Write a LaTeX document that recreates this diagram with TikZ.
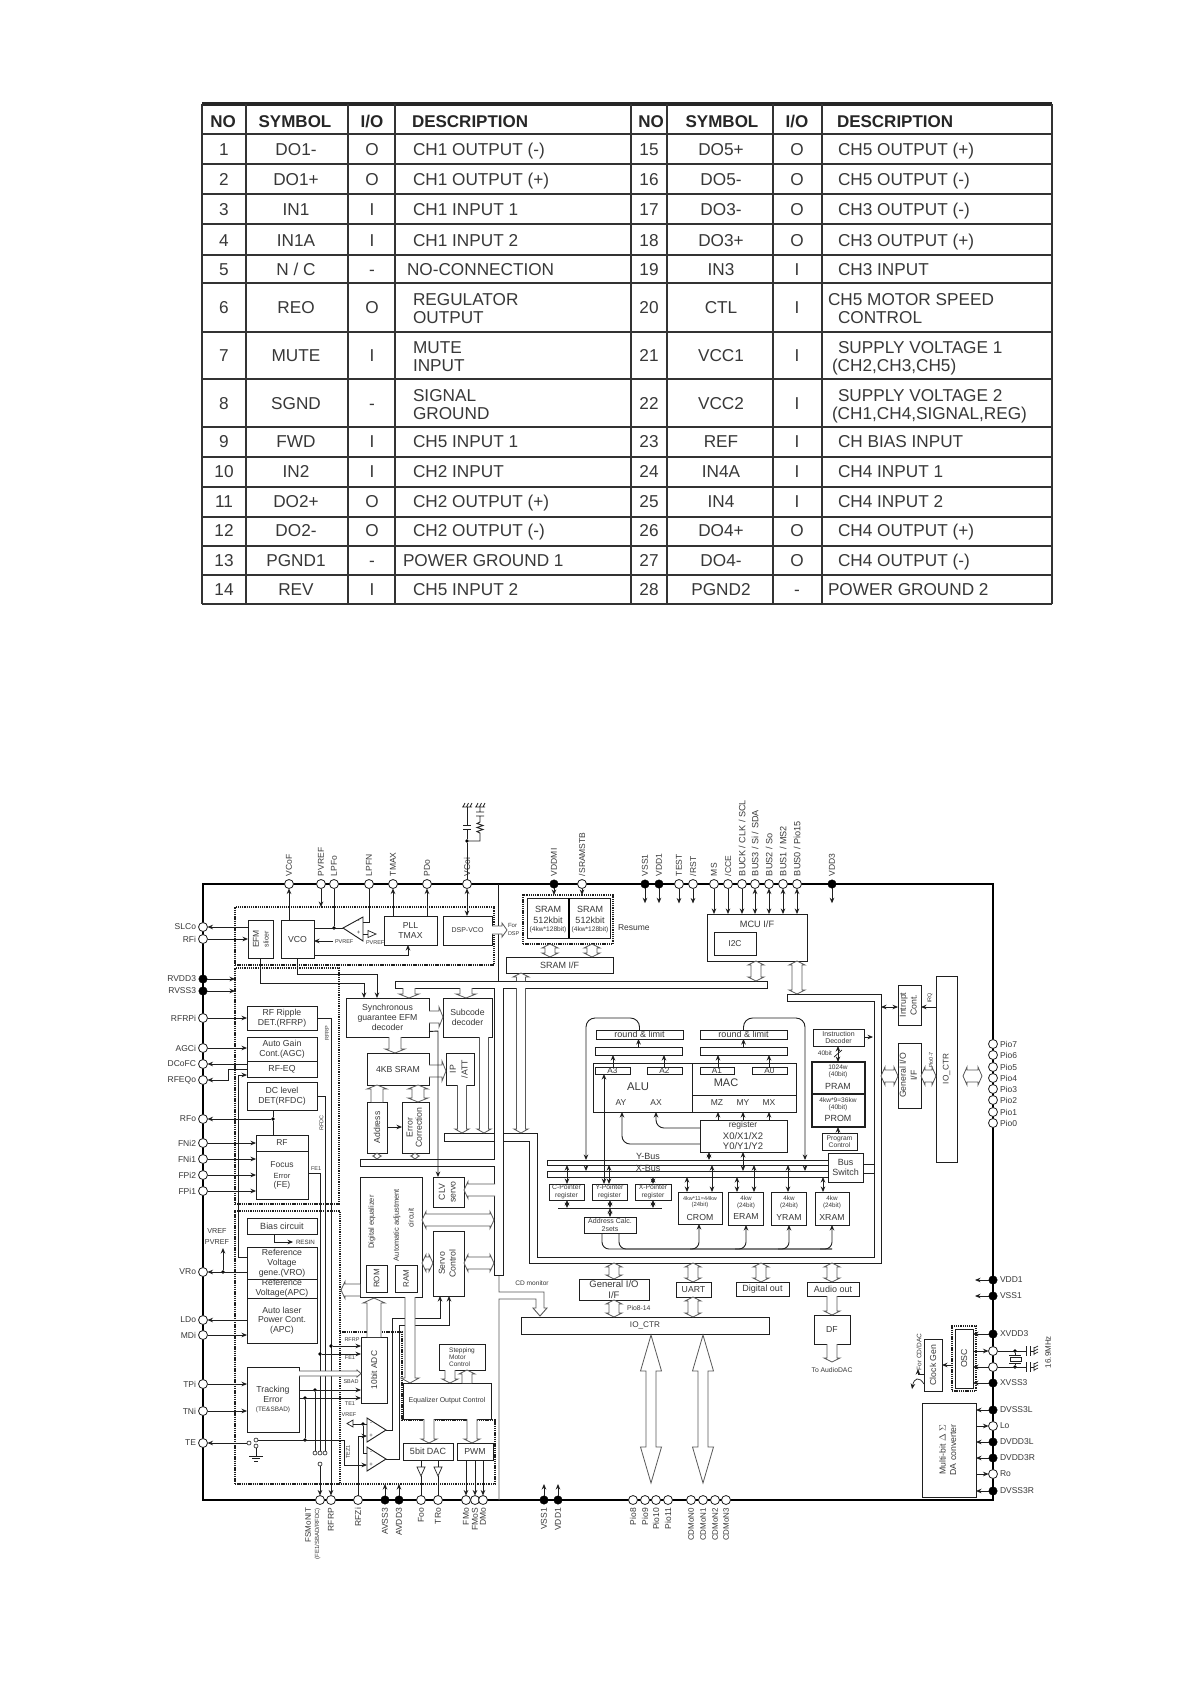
\documentclass[tikz,border=0pt]{standalone}
\usepackage{fontspec}
\setmainfont{Liberation Sans}
\usetikzlibrary{arrows.meta,calc}
\definecolor{ink}{gray}{0.12}
\definecolor{txt}{gray}{0.22}
\newcommand{\myfs}[1]{\fontsize{#1}{#1}\selectfont\setlength{\baselineskip}{1.12em}}
\tikzset{
  fs/.style={font=\myfs{#1}},
  blk/.style={draw=ink,fill=white,inner sep=0pt,outer sep=0pt,line width=.9pt,align=center,text=txt,fs=8.7},
  dots/.style={draw=ink,line width=1.3pt,dash pattern=on 1.3pt off .9pt},
  barr/.style={draw=black!65,fill=white,line width=.8pt,line join=miter},
  lab/.style={inner sep=0pt,outer sep=0pt,text=txt,align=center,fs=7.5},
  plab/.style={inner sep=0pt,outer sep=0pt,text=txt,fs=8.5},
  pino/.style={circle,draw=ink,fill=white,line width=.8pt,minimum size=9pt,inner sep=0pt,outer sep=0pt},
  pinf/.style={circle,draw=black,fill=black,line width=.4pt,minimum size=8.5pt,inner sep=0pt,outer sep=0pt},
  jd/.style={circle,fill=black,minimum size=3.6pt,inner sep=0pt,outer sep=0pt},
  swc/.style={circle,draw=ink,fill=white,line width=.6pt,minimum size=4pt,inner sep=0pt,outer sep=0pt},
  tcell/.style={inner sep=0pt,outer sep=0pt,text=txt,fs=17.2,anchor=base},
  thead/.style={tcell,font=\fontsize{17}{17}\selectfont\bfseries,text=black!85},
}
\newcount\tcnt
\newcommand{\tx}[4][]{\global\advance\tcnt by 1 \node[lab,#1] (t\the\tcnt) at (#2,#3) {#4};}
\newcommand{\tcl}[4][]{\global\advance\tcnt by 1 \node[tcell,#1] (t\the\tcnt) at (#2,#3+6.3) {#4};}
\newcommand{\tle}[3]{\tcl[anchor=base west]{#1}{#2}{#3}}
\newcommand{\bx}[7][]{\pgfmathsetmacro\bxw{#5-#3}\pgfmathsetmacro\bxh{#6-#4}\pgfmathsetmacro\bxx{(#3+#5)/2}\pgfmathsetmacro\bxy{(#4+#6)/2}\node[blk,minimum width=\bxw pt,minimum height=\bxh pt,#1] (#2) at (\bxx,\bxy) {#7};}
% rotated two-line block text
\newcommand{\rtwo}[3][2pt]{\rotatebox{90}{\begin{tabular}{@{}c@{}}#2\\[#1]#3\end{tabular}}}
% pins
\newcommand{\tpn}[4][pino]{\node[#1] (#2) at (#3,884) {}; \node[plab,rotate=90,anchor=west] (#2l) at (#3,876) {#4};}
\newcommand{\bpn}[4][pino]{\node[#1] (#2) at (#3,1500) {}; \node[plab,rotate=90,anchor=east] (#2l) at (#3,1508) {#4};}
\newcommand{\lpn}[4][pino]{\node[#1] (#2) at (203,#3) {}; \node[plab,anchor=east] (#2l) at (196,#3) {#4};}
\newcommand{\rpn}[4][pino]{\node[#1] (#2) at (993,#3) {}; \node[plab,anchor=west] (#2l) at (1000,#3) {#4};}
% connectors
\newcommand{\vc}[4][]{\draw[#1] (#2,0 |- #3) -- (#2,0 |- #4);}
\newcommand{\lin}[2]{\draw[->] (#1.east) -- (#1.east -| #2.west);}
\newcommand{\lout}[2]{\draw[->] (#1.east -| #2.west) -- (#1.east);}
\newcommand{\rin}[2]{\draw[->] (#1.west) -- (#1.west -| #2.east);}
\newcommand{\rout}[2]{\draw[->] (#1.west -| #2.east) -- (#1.west);}
% block arrows
\def\bs{5}\def\bh{8}\def\bl{4}
\newcommand{\vbi}[3]{\draw[barr] (#1-\bs,#2+\bl) -- (#1-\bh,#2+\bl) -- (#1,#2) -- (#1+\bh,#2+\bl) -- (#1+\bs,#2+\bl) -- (#1+\bs,#3-\bl) -- (#1+\bh,#3-\bl) -- (#1,#3) -- (#1-\bh,#3-\bl) -- (#1-\bs,#3-\bl) -- cycle;}
\newcommand{\hbi}[3]{\draw[barr] (#2+\bl,#1-\bs) -- (#2+\bl,#1-\bh) -- (#2,#1) -- (#2+\bl,#1+\bh) -- (#2+\bl,#1+\bs) -- (#3-\bl,#1+\bs) -- (#3-\bl,#1+\bh) -- (#3,#1) -- (#3-\bl,#1-\bh) -- (#3-\bl,#1-\bs) -- cycle;}
\newcommand{\vun}[3]{\pgfmathsetmacro\sg{sign(#3-#2)}\draw[barr] (#1-\bs,#2) -- (#1-\bs,#3-\sg*\bl) -- (#1-\bh,#3-\sg*\bl) -- (#1,#3) -- (#1+\bh,#3-\sg*\bl) -- (#1+\bs,#3-\sg*\bl) -- (#1+\bs,#2);}
\newcommand{\hun}[3]{\pgfmathsetmacro\sg{sign(#3-#2)}\draw[barr] (#2,#1-\bs) -- (#3-\sg*\bl,#1-\bs) -- (#3-\sg*\bl,#1-\bh) -- (#3,#1) -- (#3-\sg*\bl,#1+\bh) -- (#3-\sg*\bl,#1+\bs) -- (#2,#1+\bs);}
\newcommand{\gnd}[2]{\draw[line width=.7pt] (#1-5,#2) -- (#1+5,#2) (#1-4,#2) -- (#1-2,#2-4) (#1-.5,#2) -- (#1+1.5,#2-4) (#1+3,#2) -- (#1+5,#2-4);}
\newcommand{\trow}[7]{%
  \tcl{224}{#1}{#2}\tcl{296}{#1}{#3}\tcl{372}{#1}{#4}%
  \tcl{649}{#1}{#5}\tcl{721}{#1}{#6}\tcl{797}{#1}{#7}}
\begin{document}
\begin{tikzpicture}[x=1pt,y=-1pt,>={Stealth[length=5.5pt,width=4.6pt]},line width=.9pt,draw=ink]
\useasboundingbox (0,0) rectangle (1190,1684);
\fill[white] (0,0) rectangle (1190,1684);

%%%%%%%%%%% TABLE
\draw[line width=3.6pt,black!85] (202,104) -- (1052,104);
\foreach \yy in {134,164,194,224,255,283,332,379,427,457,487,517,546,575,604}
  \draw[line width=1.7pt,black!80] (202,\yy) -- (1052,\yy);
\foreach \xx in {202,246,348,395,631,667,773,822,1052}
  \draw[line width=1.7pt,black!80] (\xx,104) -- (\xx,604);
\tcl[thead]{223}{121}{NO}\tcl[thead]{295}{121}{SYMBOL}\tcl[thead]{372}{121}{I/O}\tcl[thead,anchor=base west]{412}{121}{DESCRIPTION}
\tcl[thead]{651}{121}{NO}\tcl[thead]{722}{121}{SYMBOL}\tcl[thead]{797}{121}{I/O}\tcl[thead,anchor=base west]{837}{121}{DESCRIPTION}
\trow{149}{1}{DO1-}{O}{15}{DO5+}{O}
\trow{179}{2}{DO1+}{O}{16}{DO5-}{O}
\trow{209}{3}{IN1}{I}{17}{DO3-}{O}
\trow{240}{4}{IN1A}{I}{18}{DO3+}{O}
\trow{269}{5}{N / C}{-}{19}{IN3}{I}
\trow{307}{6}{REO}{O}{20}{CTL}{I}
\trow{355}{7}{MUTE}{I}{21}{VCC1}{I}
\trow{403}{8}{SGND}{-}{22}{VCC2}{I}
\trow{441}{9}{FWD}{I}{23}{REF}{I}
\trow{471}{10}{IN2}{I}{24}{IN4A}{I}
\trow{501}{11}{DO2+}{O}{25}{IN4}{I}
\trow{530}{12}{DO2-}{O}{26}{DO4+}{O}
\trow{560}{13}{PGND1}{-}{27}{DO4-}{O}
\trow{589}{14}{REV}{I}{28}{PGND2}{-}
\tle{413}{149}{CH1 OUTPUT (-)}\tle{413}{179}{CH1 OUTPUT (+)}\tle{413}{209}{CH1 INPUT 1}\tle{413}{240}{CH1 INPUT 2}
\tle{407}{269}{NO-CONNECTION}\tle{413}{299}{REGULATOR}\tle{413}{317}{OUTPUT}\tle{413}{347}{MUTE}\tle{413}{365}{INPUT}
\tle{413}{395}{SIGNAL}\tle{413}{413}{GROUND}\tle{413}{441}{CH5 INPUT 1}\tle{413}{471}{CH2 INPUT}
\tle{413}{501}{CH2 OUTPUT (+)}\tle{413}{530}{CH2 OUTPUT (-)}\tle{403}{560}{POWER GROUND 1}\tle{413}{589}{CH5 INPUT 2}
\tle{838}{149}{CH5 OUTPUT (+)}\tle{838}{179}{CH5 OUTPUT (-)}\tle{838}{209}{CH3 OUTPUT (-)}\tle{838}{240}{CH3 OUTPUT (+)}
\tle{838}{269}{CH3 INPUT}\tle{828}{299}{CH5 MOTOR SPEED}\tle{838}{317}{CONTROL}\tle{838}{347}{SUPPLY VOLTAGE 1}\tle{832}{365}{(CH2,CH3,CH5)}
\tle{838}{395}{SUPPLY VOLTAGE 2}\tle{832}{413}{(CH1,CH4,SIGNAL,REG)}\tle{838}{441}{CH BIAS INPUT}\tle{838}{471}{CH4 INPUT 1}
\tle{838}{501}{CH4 INPUT 2}\tle{838}{530}{CH4 OUTPUT (+)}\tle{838}{560}{CH4 OUTPUT (-)}\tle{828}{589}{POWER GROUND 2}

%%%%%%%%%%% CHIP OUTLINE AND PARTITIONS
\draw[line width=1.8pt,black] (203,884) rectangle (993,1500);
\node[dots,minimum width=259pt,minimum height=58pt,inner sep=0pt,outer sep=0pt] (dotA) at (364.5,936) {};
\node[dots,minimum width=104pt,minimum height=236pt,inner sep=0pt,outer sep=0pt] (dotB) at (287,1086) {};
\node[dots,minimum width=105pt,minimum height=273pt,inner sep=0pt,outer sep=0pt] (dotC) at (287.5,1347.5) {};
\draw[dots] (340,1332) -- (402,1332) -- (402,1420) -- (495,1420) -- (495,1484) -- (340,1484);
\draw[line width=.9pt] (498,884) -- (498,981);
\draw[barr,line width=.9pt] (499,1500) -- (499,1299) -- (536,1299) -- (536,1308) -- (533,1308) -- (540,1316) -- (547,1308) -- (544,1308) -- (544,1292) -- (499,1292) -- (499,1275);

%%%%%%%%%%% BUSES
\draw[fill=white,line width=.9pt] (444,1133) -- (537,1133) -- (537,1257) -- (874,1257) -- (874,1001) -- (787,1001) -- (787,994) -- (881,994) -- (881,1263) -- (529,1263) -- (529,1141) -- (444,1141) -- cycle;
\draw[fill=white,line width=.9pt] (395,981) -- (767,981) -- (767,988) -- (503,988) -- (503,1275) -- (494.5,1275) -- (494.5,1166) -- (360,1166) -- (360,1159) -- (494.5,1159) -- (494.5,988) -- (395,988) -- cycle;

%%%%%%%%%%% LEFT-TOP BLOCKS
\bx{EFM}{248}{920}{273}{958}{}
\tx[rotate=90,fs=8.5]{256}{939}{EFM}\tx[rotate=90,fs=7]{266}{939}{slicer}
\bx{VCO}{281}{920}{314}{958}{VCO}
\bx{PLL}{384}{916}{437}{945}{PLL\\TMAX}
\bx[fs=7]{DSP}{443}{916}{492}{945}{DSP-VCO}
\bx{RFrip}{247}{1006}{317}{1030}{RF Ripple\\DET.(RFRP)}
\bx{AGC}{247}{1037}{317}{1061}{Auto Gain\\Cont.(AGC)}
\bx{RFEQ}{247}{1061}{317}{1077}{RF-EQ}
\bx{DCb}{247}{1082}{317}{1110}{DC level\\DET(RFDC)}
\bx{RFb}{256}{1135}{308}{1199}{}
\draw (RFb.west |- 0,1151) -- (RFb.east |- 0,1151);
\tx[fs=8.5]{282}{1143}{RF}\tx[fs=8.5]{282}{1165}{Focus}\tx[fs=7.5]{282}{1175.5}{Error}\tx[fs=8.5]{282}{1185}{(FE)}
\bx[fs=9]{Bias}{247}{1218}{317}{1234}{Bias circuit}
\bx{RefV}{247}{1247}{317}{1279}{Reference\\Voltage\\gene.(VRO)}
\bx{RefA}{247}{1279}{317}{1298}{Reference\\Voltage(APC)}
\bx{APC}{247}{1298}{317}{1343}{Auto laser\\Power Cont.\\(APC)}
\bx{Trk}{247}{1367}{299}{1432}{}
\tx[fs=8.7]{273}{1390}{Tracking}\tx[fs=8.7]{273}{1400}{Error}
\tx[fs=6.4]{273}{1410}{(TE\&SBAD)}
\bx[fs=8.4]{ADC}{361}{1337}{387}{1403}{\rotatebox{90}{10bit ADC}}
\bx[fs=7]{EqC}{403}{1383}{491}{1419}{Equalizer Output Control}
\bx[fs=6.5,align=left]{Step}{439}{1344}{485}{1370}{Stepping\\Motor\\Control}
\bx[fs=9]{DAC}{403}{1443}{453}{1460}{5bit DAC}
\bx{PWM}{457}{1443}{493}{1460}{PWM}

%%%%%%%%%%% CENTRE BLOCKS
\bx{Sync}{346}{998}{429}{1037}{Synchronous\\guarantee EFM\\decoder}
\bx{Subc}{443}{998}{492}{1037}{Subcode\\decoder}
\bx{SRAM4}{367}{1053}{429}{1085}{4KB SRAM}
\bx{IPA}{446}{1053}{474}{1085}{\rtwo[3pt]{IP}{/ATT}}
\bx{Addr}{367}{1102}{387}{1153}{\rotatebox{90}{Address}}
\bx{ErrC}{402}{1102}{429}{1153}{\rtwo[.5pt]{Error}{Correction}}
\bx{DEq}{360}{1177}{422}{1297}{}
\tx[rotate=90,fs=7.5]{372}{1222}{Digital equalizer}
\tx[rotate=90,fs=7.5]{397}{1225}{Automatic adjustment}
\tx[rotate=90,fs=7.5]{411}{1218}{circuit}
\bx[fs=8]{ROM}{366}{1265}{387}{1292}{\rotatebox{90}{ROM}}
\bx[fs=8]{RAM}{395}{1265}{417}{1292}{\rotatebox{90}{RAM}}
\bx{CLV}{433}{1177}{464}{1207}{\rtwo{CLV}{servo}}
\bx{Servo}{433}{1231}{464}{1296}{\rtwo{Servo}{Control}}

%%%%%%%%%%% SRAM, MCU
\node[dots,line width=1.6pt,minimum width=90pt,minimum height=49pt,inner sep=0pt,outer sep=0pt] (SRo) at (568,919.5) {};
\bx[line width=1pt]{SRa}{527}{898}{569}{938}{}
\bx[line width=1pt]{SRb}{569}{898}{610}{938}{}
\draw[line width=1.6pt,black] (SRa.north east) -- (SRa.south east);
\tx[fs=9]{548}{909}{SRAM}\tx[fs=9]{548}{920}{512kbit}\tx[fs=6.6]{548}{929.5}{(4kw*128bit)}
\tx[fs=9]{590}{909}{SRAM}\tx[fs=9]{590}{920}{512kbit}\tx[fs=6.6]{590}{929.5}{(4kw*128bit)}
\bx[fs=9]{SRIF}{506}{957}{613}{973}{SRAM I/F}
\tx[fs=8.5,anchor=west]{618}{928}{Resume}
\bx{MCU}{707}{914}{807}{961}{}
\tx[fs=9.2]{757}{924}{MCU I/F}
\bx[fs=8.5]{I2C}{714}{932}{756}{955}{I2C}

%%%%%%%%%%% DSP CORE
\bx[fs=9]{RL1}{596}{1030}{683}{1039}{round \& limit}
\bx{Bar1}{595}{1047}{682}{1055}{}
\bx[fs=9]{RL2}{700}{1030}{787}{1039}{round \& limit}
\bx{Bar2}{700}{1047}{787}{1055}{}
\bx{ALUb}{593}{1063}{692}{1112}{}
\bx{MACb}{692}{1063}{796}{1112}{}
\bx{MZb}{692}{1095}{796}{1112}{}
\bx[fs=8.2]{A3}{595}{1067}{630}{1074}{A3}
\bx[fs=8.2]{A2}{647}{1067}{682}{1074}{A2}
\bx[fs=8.2]{A1}{700}{1067}{734}{1074}{A1}
\bx[fs=8.2]{A0}{752}{1067}{787}{1074}{A0}
\tx[fs=11.3]{638}{1087}{ALU}\tx[fs=11]{726}{1083}{MAC}
\tx[fs=8.5]{621}{1103}{AY}\tx[fs=8.5]{656}{1103}{AX}\tx[fs=8.5]{717}{1103}{MZ}\tx[fs=8.5]{743}{1103}{MY}\tx[fs=8.5]{769}{1103}{MX}
\bx{Reg}{700}{1120}{787}{1152}{}
\tx[fs=8.5]{743}{1125}{register}\tx[fs=9.5]{743}{1136}{X0/X1/X2}\tx[fs=9.5]{743}{1146.5}{Y0/Y1/Y2}
\bx{Ybus}{547}{1160}{828}{1165}{}
\bx{Xbus}{547}{1171}{828}{1177}{}
\tx[fs=9]{648}{1156}{Y-Bus}\tx[fs=9]{648}{1168.5}{X-Bus}
\bx[fs=9]{BusSw}{828}{1153}{863}{1182}{Bus\\Switch}
\bx[fs=6.8]{CPtr}{549}{1184}{584}{1200}{C-Pointer\\register}
\bx[fs=6.8]{YPtr}{592}{1184}{627}{1200}{Y-Pointer\\register}
\bx[fs=6.8]{XPtr}{635}{1184}{671}{1200}{X-Pointer\\register}
\draw[line width=1pt] (558,1208) -- (662,1208);
\coordinate (ptrL) at (610,1208);
\bx[fs=7]{AdrC}{584}{1217}{636}{1233}{Address Calc.\\2sets}
\bx{CROM}{678}{1192}{722}{1224}{}
\bx{ERAM}{728}{1192}{763}{1225}{}
\bx{YRAM}{771}{1192}{806}{1225}{}
\bx{XRAM}{815}{1192}{849}{1225}{}
\tx[fs=5.5]{700}{1198}{4kw*11=44kw}\tx[fs=5.9]{700}{1205}{(24bit)}\tx[fs=8.7]{700}{1217}{CROM}
\tx[fs=6.3]{746}{1198}{4kw}\tx[fs=6.3]{746}{1206}{(24bit)}\tx[fs=8.7]{746}{1216}{ERAM}
\tx[fs=6.3]{789}{1198}{4kw}\tx[fs=6.3]{789}{1206}{(24bit)}\tx[fs=8.7]{789}{1217}{YRAM}
\tx[fs=6.3]{832}{1198}{4kw}\tx[fs=6.3]{832}{1206}{(24bit)}\tx[fs=8.7]{832}{1217}{XRAM}
\bx[fs=7]{InsD}{813}{1029}{864}{1046}{Instruction\\Decoder}
\bx[line width=1.7pt]{PRAM}{812}{1062}{865}{1094}{}
\bx[line width=1.7pt]{PROM}{812}{1094}{865}{1127}{}
\tx[fs=6.6]{838}{1067}{1024w}\tx[fs=6.6]{838}{1075}{(40bit)}\tx[fs=8.9]{838}{1086}{PRAM}
\tx[fs=6.6]{838}{1100}{4kw*9=36kw}\tx[fs=6.6]{838}{1108}{(40bit)}\tx[fs=8.9]{838}{1118}{PROM}
\bx[fs=6.7]{PrgC}{822}{1133}{857}{1150}{Program\\Control}
\tx[fs=6.5,anchor=east]{832}{1053}{40bit}

%%%%%%%%%%% RIGHT BLOCKS
\bx{Intr}{898}{985}{921}{1025}{\rtwo{Intrupt}{Cont.}}
\bx{GIOr}{898}{1043}{921}{1108}{\rtwo{General I/O}{I/F}}
\bx[fs=8.2]{IOr}{936}{976}{957}{1162}{\rotatebox{90}{IO\_CTR}}
\tx[fs=5.5,rotate=90]{930}{998}{IRQ}
\tx[fs=5.5,rotate=90]{931}{1060}{Pio0-7}
\bx[fs=9.5]{GIOb}{579}{1279}{649}{1300}{General I/O\\I/F}
\bx{UART}{676}{1282}{711}{1297}{UART}
\bx[fs=9]{DOut}{736}{1282}{789}{1296}{Digital out}
\bx[fs=9]{AOut}{807}{1282}{859}{1296}{Audio out}
\bx{DF}{814}{1315}{850}{1344}{DF}
\bx[fs=8.2]{IOb}{521}{1317}{769}{1334}{IO\_CTR}
\tx[fs=6.8,anchor=west]{627}{1308}{Pio8-14}
\tx[fs=6.6]{532}{1283}{CD monitor}
\tx[fs=6.8]{832}{1370}{To AudioDAC}
\bx{Clk}{924}{1339}{942}{1391}{\rotatebox{90}{Clock Gen}}
\node[dots,line width=1.6pt,minimum width=24pt,minimum height=65pt,inner sep=0pt,outer sep=0pt] (OSCo) at (964,1358.5) {};
\bx{OSC}{955}{1329}{973}{1388}{\rotatebox{90}{OSC}}
\bx{DAconv}{922}{1403}{976}{1497}{\rtwo{Multi-bit \(\Delta\ \Sigma\)}{DA converter}}
\tx[fs=6.5,rotate=90]{919}{1352}{For CD/DAC}

%%%%%%%%%%% OP AMPS
\draw (363,917) -- (363,941) -- (343,928) -- cycle;
\coordinate (oa0t) at (343,928); \coordinate (oa0m) at (363,922); \coordinate (oa0p) at (363,934);
\tx[fs=6]{358.5}{922}{-}\tx[fs=6]{358.5}{933}{+}
\draw (367,1418) -- (367,1442) -- (386,1430) -- cycle;
\coordinate (oa1t) at (386,1430); \coordinate (oa1m) at (367,1424); \coordinate (oa1p) at (367,1436);
\draw (367,1447) -- (367,1471) -- (386,1459) -- cycle;
\coordinate (oa2t) at (386,1459); \coordinate (oa2m) at (367,1453); \coordinate (oa2p) at (367,1465);
\tx[fs=6]{371}{1424}{-}\tx[fs=6]{371}{1436}{+}\tx[fs=6]{371}{1453}{-}\tx[fs=6]{371}{1465}{+}

%%%%%%%%%%% PINS
\tpn{pVCoF}{289}{VCoF}\tpn{pPVREF}{321}{PVREF}\tpn{pLPFo}{334}{LPFo}\tpn{pLPFN}{369}{LPFN}\tpn{pTMAX}{393}{TMAX}\tpn{pPDo}{427}{PDo}\tpn{pVCoi}{467}{VCoi}
\tpn[pinf]{pVDDMI}{554}{VDDMI}\tpn{pSRST}{582}{/SRAMSTB}\tpn[pinf]{pVSS1t}{645}{VSS1}\tpn[pinf]{pVDD1t}{659}{VDD1}\tpn{pTEST}{679}{TEST}\tpn{pRST}{693}{/RST}
\tpn{pMS}{714}{MS}\tpn{pCCE}{728}{/CCE}\tpn{pBUCK}{742}{\myfs{9.1}BUCK / CLK / SCL}\tpn{pBUS3}{755}{\myfs{9.1}BUS3 / Si / SDA}\tpn{pBUS2}{769}{\myfs{9.1}BUS2 / So}\tpn{pBUS1}{783}{\myfs{9.1}BUS1 / MS2}\tpn{pBUS0}{797}{\myfs{9.1}BUS0 / Pio15}
\tpn[pinf]{pVDD3}{832}{VDD3}
\lpn{pSLCo}{927}{SLCo}\lpn{pRFi}{939}{RFi}\lpn[pinf]{pRVDD3}{979}{RVDD3}\lpn[pinf]{pRVSS3}{991}{RVSS3}\lpn{pRFRPi}{1018}{RFRPi}\lpn{pAGCi}{1048}{AGCi}\lpn{pDCoFC}{1064}{DCoFC}\lpn{pRFEQo}{1080}{RFEQo}
\lpn{pRFo}{1119}{RFo}\lpn{pFNi2}{1143}{FNi2}\lpn{pFNi1}{1159}{FNi1}\lpn{pFPi2}{1175}{FPi2}\lpn{pFPi1}{1191}{FPi1}\lpn{pVRo}{1272}{VRo}\lpn{pLDo}{1320}{LDo}\lpn{pMDi}{1335}{MDi}\lpn{pTPi}{1384}{TPi}\lpn{pTNi}{1411}{TNi}\lpn{pTE}{1443}{TE}
\node[pino] (pFSM) at (320,1500) {};
\node[plab,rotate=90,anchor=east,fs=8] (pFSMl) at (308,1508) {FSMoNIT};
\node[plab,rotate=90,anchor=east,fs=6] (pFSMm) at (317.5,1508) {(FE1/SBAD/RFDC)};
\bpn{pRFRP}{331}{RFRP}\bpn{pRFZi}{358}{RFZi}\bpn[pinf]{pAVSS3}{385}{AVSS3}\bpn[pinf]{pAVDD3}{399}{AVDD3}\bpn{pFoo}{421}{Foo}\bpn{pTRo}{438}{TRo}\bpn{pFMo}{466}{FMo}\bpn{pFMoS}{475}{FMoS}\bpn{pDMo}{483}{DMo}
\bpn[pinf]{pVSS1b}{544}{VSS1}\bpn[pinf]{pVDD1b}{558}{VDD1}\bpn{pP8}{633}{Pio8}\bpn{pP9}{645}{Pio9}\bpn{pP10}{656}{Pio10}\bpn{pP11}{668}{Pio11}
\bpn{pN0}{691}{\myfs{8}CDMoN0}\bpn{pN1}{703}{\myfs{8}CDMoN1}\bpn{pN2}{715}{\myfs{8}CDMoN2}\bpn{pN3}{726}{\myfs{8}CDMoN3}
\rpn{pP7}{1044}{Pio7}\rpn{pP6}{1055}{Pio6}\rpn{pP5}{1067}{Pio5}\rpn{pP4}{1078}{Pio4}\rpn{pP3}{1089}{Pio3}\rpn{pP2}{1100}{Pio2}\rpn{pP1}{1112}{Pio1}\rpn{pP0}{1123}{Pio0}
\rpn[pinf]{pVDD1r}{1280}{VDD1}\rpn[pinf]{pVSS1r}{1296}{VSS1}\rpn[pinf]{pXVDD}{1334}{XVDD3}
\node[pino] (pXa) at (993,1351) {}; \node[pino] (pXb) at (993,1367) {};
\rpn[pinf]{pXVSS}{1383}{XVSS3}\rpn[pinf]{pDV3L}{1410}{DVSS3L}\rpn{pLo}{1426}{Lo}\rpn[pinf]{pDD3L}{1442}{DVDD3L}\rpn[pinf]{pDD3R}{1458}{DVDD3R}\rpn{pRo}{1474}{Ro}\rpn[pinf]{pDV3R}{1491}{DVSS3R}

%%%%%%%%%%% TOP PIN CONNECTORS
\draw[->] (pVCoF |- EFM.north) -- (pVCoF.south);
\draw[->] (pPVREF.south) -- (pPVREF |- dotA.north);
\node[jd] (jLPF) at (pLPFo |- oa0t) {};
\draw (pLPFo.south) -- (jLPF);
\draw (VCO.east |- oa0t) -- (oa0t);
\draw (oa0m) -| (pLPFN.south);
\draw[->] (pTMAX |- PLL.north) -- (pTMAX.south);
\draw[->] (pPDo |- PLL.north) -- (pPDo.south);
\draw[<->] (pVCoi.south) -- (pVCoi |- DSP.north);
\draw[->] (pVDDMI.south) -- (pVDDMI |- SRo.north);
\draw[->] (pSRST.south) -- (pSRST |- SRo.north);
\foreach \pp in {pVSS1t,pVDD1t,pTEST,pRST,pVDD3}{\draw[->] (\pp.south) -- ++(0,15);}
\foreach \pp in {pMS,pCCE,pBUCK}{\draw[->] (\pp.south) -- (\pp |- MCU.north);}
\foreach \pp in {pBUS3,pBUS2,pBUS1,pBUS0}{\draw[<->] (\pp.south) -- (\pp |- MCU.north);}
% VCoi network
\node[jd] (jVC) at (467,841) {};
\draw (pVCoi.north) -- (jVC);
\draw (jVC) -- (467,829) (463,829) -- (471,829) (463,825) -- (471,825) (467,825) -- (467,807);
\gnd{467}{807}
\draw (jVC) -- (480,841) -- (480,833) -- (477,831.5) -- (483,829.5) -- (477,827.5) -- (483,825.5) -- (477,823.5) -- (480,822) -- (480,816) (476,816) -- (484,816) (476,812) -- (484,812) (480,812) -- (480,807);
\gnd{480}{807}
% VCO region
\draw[->] (333,941) -- (VCO.east |- 0,941);
\tx[fs=5.5,anchor=west]{335}{942}{PVREF}
\draw (oa0p) -- (368,934);
\draw[line width=.7pt,fill=white] (368,930.5) -- (376,934) -- (368,937.5) -- cycle;
\tx[fs=5.5,anchor=west]{366}{943}{PVREF}
\draw[->] (VCO.east |- 0,955) -| (408,0 |- PLL.south);
\def\bs{4}\def\bh{7}\def\bl{5}\hun{930}{492}{507}
\tx[fs=6,anchor=west]{508}{925}{For}\tx[fs=5.5,anchor=west]{508}{934}{DSP}
\draw[->] (EFM.south) -- ++(0,25) -| ($(Sync.north)+(-23.5,0)$);
\draw[->] (VCO.south) -- ++(0,16) -| ($(Sync.north)+(-10.5,0)$);

%%%%%%%%%%% LEFT PIN CONNECTORS
\lout{pSLCo}{EFM}\lin{pRFi}{EFM}
\lin{pRVDD3}{dotB}\lin{pRVSS3}{dotB}
\lin{pRFRPi}{RFrip}\lin{pAGCi}{AGC}\lout{pDCoFC}{AGC}
\draw[->] (RFEQ.west) -- ++(-19,0) |- (pRFEQo.east);
\draw[->] ($(RefV.north west)+(0,10)$) -- ++(-9,0) |- ($(RFEQ.south west)+(0,-2)$);
\node[jd] (jRFo) at (273,1119) {};
\draw (DCb.south -| jRFo) -- (jRFo) -- (RFb.north -| jRFo);
\draw[->] (jRFo) -- (pRFo.east);
\lin{pFNi2}{RFb}\lin{pFNi1}{RFb}\lin{pFPi2}{RFb}\lin{pFPi1}{RFb}
\draw[->] (Bias.south -| 274,0) -- (274,1242) -- (293,1242);
\tx[fs=6.2,anchor=west]{296}{1242}{RESIN}
\node[jd] (jVR) at (223,1272) {};
\draw[->] (RefV.west |- jVR) -- (pVRo.east);
\draw[->] (jVR) -- (223,1248);
\tx[fs=7.2]{217}{1231}{VREF}\tx[fs=7.2]{217}{1242}{PVREF}
\lout{pLDo}{APC}\lin{pMDi}{APC}
\lin{pTPi}{Trk}\lin{pTNi}{Trk}

%%%%%%%%%%% SIGNAL BUS TO ADC
\node[swc] (s1) at (315,1453) {};\node[swc] (s2) at (320,1453) {};\node[swc] (s3) at (325,1453) {};\node[swc] (s4) at (320,1464) {};
\draw[->] (RFrip.east) -| (pRFRP.north);
\draw (DCb.east) -| (s3.north);
\draw (RFb.east |- 0,1173) -| (s2.north);
\tx[fs=5.5,anchor=west]{311}{1169}{FE1}
\tx[fs=5.5,rotate=90]{321.5}{1123}{RFDC}
\tx[fs=5.5,rotate=90]{327}{1033}{RFRP}
\draw[->] (s4.south) -- (pFSM.north);
\node[jd] (jRFRP) at (pRFRP |- 0,1346) {};
\draw[->] (jRFRP) -- (ADC.west |- jRFRP);
\node[jd] (jFE1) at (320,1354) {};
\draw[->] (jFE1) -- (ADC.west |- jFE1);
\tx[fs=5.5]{352}{1340}{RFRP}\tx[fs=5.5]{350}{1358}{FE1}\tx[fs=5.5]{351}{1382}{SBAD}\tx[fs=5.5]{350}{1404}{TE1}\tx[fs=5.5]{349}{1415}{VREF}
\def\bs{2.5}\def\bh{3.5}\def\bl{4}\hun{1373.5}{299}{361}
\node[jd] (jSB) at (315,1390) {};\node[jd] (jTE) at (305,1398) {};
\draw[->] (Trk.east |- jSB) -- (ADC.west |- jSB);
\draw[->] (Trk.east |- jTE) -- (ADC.west |- jTE);
\draw (jSB) -- (s1.north);
\node[jd] (jTE2) at (305,1440) {};
\draw (jTE) -- (jTE2);
\node[swc] (sw1) at (249,1443) {};\node[swc] (sw2) at (256,1440) {};\node[swc] (sw3) at (256,1446) {};
\draw[->] (sw1.west) -- (pTE.east);
\draw[->] (sw2.east) -- (344,1440) -- (344,1465) -- (oa2p);
\tx[fs=5.5,rotate=90]{348}{1452}{TEZ1}
\draw (sw3.south) -- (256,1456) (249,1456) -- (263,1456) (252,1458.5) -- (260,1458.5) (254,1461) -- (258,1461);
% op amp wiring
\draw[->] (pRFZi.north) |- (oa1p);
\draw[line width=.7pt] (347,1423.5) -- (353,1420) -- (353,1427) -- cycle;
\node[jd] (jV) at (363,1424) {};
\draw (353,1424) -- (oa1m);
\draw (jV) -- (363,1453) -- (oa2m);
\draw[->] (oa1t) -- (392,1430) |- (440,1318) -- (440,0 |- Servo.south);
\draw[->] (oa2t) -- (399,1459) |- (449,1325) -- (449,0 |- Servo.south);
% DAC/PWM outputs
\foreach \xx/\pp in {421/pFoo,438/pTRo}{
  \draw (\xx,0 |- DAC.south) -- (\xx,1467) (\xx,1476) -- (\pp.north);
  \draw[line width=.7pt,fill=white] (\xx-4,1467) -- (\xx+4,1467) -- (\xx,1476) -- cycle;}
\foreach \pp in {pFMo,pFMoS,pDMo}{\draw[->] (\pp |- PWM.south) -- (\pp.north);}
\draw[->] (pAVSS3.north) -- (385,1484);
\draw[->] (pAVDD3.north) -- (399,1484);
\draw[->] (pVSS1b.north) -- (544,1484);
\draw[->] (pVDD1b.north) -- (558,1484);

%%%%%%%%%%% CENTRE BLOCK ARROWS
\def\bs{6}\def\bh{10}\def\bl{4}
\vun{409}{988}{998}\vun{466}{988}{998}
\hun{1017}{429}{443}
\vun{395}{1037}{1053}
\hun{1071}{429}{446}
\vun{377}{1102}{1085}\vbi{418}{1085}{1102}
\draw[->] (Addr.east |- 0,1127) -- (ErrC.west |- 0,1127);
\def\bs{2.5}\def\bh{4}\def\bl{3}\vbi{377}{1153}{1159}\vbi{415}{1153}{1159}
\def\bs{4.5}\def\bh{7}\def\bl{4}
\vun{462}{1085}{1133}\vun{484}{1037}{1133}\vun{521}{988}{1133}
\draw[->] ($(Sync.east)+(0,14)$) -- (438,1031) -- (438,0 |- CLV.north);
\def\bs{6}\def\bh{8.5}\def\bl{4}
\hun{1190}{495}{464}\hbi{1220}{422}{494}\hbi{1263}{464}{494}\hbi{1263}{422}{433}
\hun{1290}{360}{341}
\def\bs{7}\def\bh{11}\def\bl{5}\vun{374}{1337}{1298}
\def\bs{5}\def\bh{9}\def\bl{5}\vun{410}{1297}{1383}
\def\bs{5}\def\bh{8}\def\bl{4}
\vun{450}{1370}{1383}\vun{467}{1383}{1370}
\vun{429}{1419}{1443}\vun{472}{1419}{1443}
% SRAM and MCU buses
\vbi{550}{944}{957}\vbi{592}{944}{957}
\def\bs{4.5}\vun{521}{981}{973}
\def\bs{5}\vbi{756}{961}{981}\vbi{797}{961}{994}
% DSP core connectors
\draw[->,rounded corners=9pt] (RL1.north) |- (586,1018) -- (586,0 |- Ybus.north);
\vc[->]{586}{Ybus.south}{Xbus.north}
\draw[->,rounded corners=9pt] (RL2.north) |- (805,1018) -- (805,0 |- Ybus.north);
\vc[->]{805}{Ybus.south}{Xbus.north}
\draw[->] (Bar1.north) -- (Bar1.north |- RL1.south);
\draw[->] (Bar2.north) -- (Bar2.north |- RL2.south);
\vc[->]{613}{A3.north}{Bar1.south}\vc[->]{664}{A2.north}{Bar1.south}\vc[->]{718}{A1.north}{Bar2.south}\vc[->]{769}{A0.north}{Bar2.south}
\vc[<->]{604}{YPtr.north}{A3.south}
\vc[->]{718}{Reg.north}{MZb.south}\vc[->]{743}{Reg.north}{MZb.south}\vc[->]{769}{Reg.north}{MZb.south}
\draw[->,rounded corners=8pt] (Reg.west |- 0,1144) -| (622,0 |- ALUb.south);
\draw[->,rounded corners=8pt] (Reg.west |- 0,1128) -| (656,0 |- ALUb.south);
\vc[<->]{709}{Reg.south}{Ybus.north}\vc[<->]{743}{Reg.south}{Xbus.north}
\vc[<->]{567}{Ybus.south}{CPtr.north}\vc[<->]{609}{Ybus.south}{YPtr.north}\vc[<->]{653}{Xbus.south}{XPtr.north}
\vc[<->]{567}{CPtr.south}{ptrL}\vc[<->]{610}{YPtr.south}{ptrL}\vc[<->]{653}{XPtr.south}{ptrL}\vc[<->]{610}{ptrL}{AdrC.north}
\vc[<->]{687}{Xbus.south}{CROM.north}\vc[<->]{712}{Ybus.south}{CROM.north}
\vc[<->]{737}{Xbus.south}{ERAM.north}\vc[<->]{754}{Ybus.south}{ERAM.north}
\vc[<->]{788}{Ybus.south}{YRAM.north}\vc[<->]{823}{Xbus.south}{XRAM.north}
\draw[rounded corners=7pt] (602,0 |- AdrC.south) |- (832,1249);
\draw[rounded corners=7pt] (619,0 |- AdrC.south) |- (832,1249);
\draw[->,rounded corners=7pt] (690,1249) -| (699,0 |- CROM.south);
\draw[->,rounded corners=7pt] (735,1249) -| (746,0 |- ERAM.south);
\draw[->,rounded corners=7pt] (778,1249) -| (789,0 |- YRAM.south);
\draw[->,rounded corners=7pt] (820,1249) -| (832,0 |- XRAM.south);
\draw (BusSw.east |- 0,1164) -- (874,1164) (BusSw.east |- 0,1173) -- (874,1173);
\draw[->] (InsD.east |- 0,1037) -- (873,1037);
\vc[<->]{838}{InsD.south}{PRAM.north}
\draw[line width=.7pt] (834,1057) -- (842,1050);
\vc[->]{838}{PrgC.north}{PROM.south}

%%%%%%%%%%% RIGHT SIDE
\draw[<->] (881,1007) -- (Intr.west |- 0,1007);
\draw[->] (IOr.west |- 0,1007) -- (Intr.east |- 0,1007);
\def\bs{6}\def\bh{9}\def\bl{4}
\hbi{1076}{881}{898}\hbi{1076}{921}{936}\hbi{1076}{963}{982}
% Bottom interfaces
\def\bs{5}\def\bh{8}\def\bl{4}
\vbi{614}{1263}{1279}\vbi{693}{1263}{1282}\vbi{761}{1263}{1282}\vbi{832}{1263}{1282}
\vbi{614}{1300}{1317}\vbi{693}{1297}{1317}
\vun{832}{1296}{1315}\vun{832}{1344}{1362}
\def\bs{5}\def\bh{10.5}\def\bl{36}
\vbi{651}{1335}{1483}\vbi{703}{1335}{1483}
% Right pins
\draw[->] (pVDD1r.west) -- (975,1280);
\draw[->] (pVSS1r.west) -- (975,1296);
\rin{pXVDD}{OSC}\rout{pXa}{OSC}\rin{pXb}{OSC}\rin{pXVSS}{OSC}
\draw[->] (OSCo.west |- Clk) -- (Clk.east);
\draw[->] (Clk.west |- 0,1374) -- (918,1374) -- (918,1369);
\draw[->,line width=.7pt] (924,1384) .. controls (919,1376) and (914,1378) .. (912,1389);
\rin{pDV3L}{DAconv}\rout{pLo}{DAconv}\rin{pDD3L}{DAconv}\rin{pDD3R}{DAconv}\rout{pRo}{DAconv}\rin{pDV3R}{DAconv}
% Crystal
\node[jd] (jXa) at (1015,1351) {};\node[jd] (jXb) at (1015,1367) {};
\draw (pXa.east) -- (1026,1351) (1026,1346) -- (1026,1356) (1030,1346) -- (1030,1356) (1030,1351) -- (1034,1351);
\draw (pXb.east) -- (1026,1367) (1026,1362) -- (1026,1372) (1030,1362) -- (1030,1372) (1030,1367) -- (1034,1367);
\foreach \yy in {1351,1367}{\draw[line width=.7pt] (1034,\yy-4) -- (1034,\yy+4) (1034,\yy-3) -- (1038,\yy-5) (1034,\yy) -- (1038,\yy-2) (1034,\yy+3) -- (1038,\yy+1);}
\draw (jXa) -- (1015,1355) (1009,1355) -- (1021,1355) (1015,1363) -- (jXb) (1009,1363) -- (1021,1363);
\draw[fill=white,line width=.7pt] (1010,1357) rectangle (1021,1361);
\tx[fs=8,rotate=90]{1048}{1352}{16.9MHz}
\end{tikzpicture}
\end{document}
